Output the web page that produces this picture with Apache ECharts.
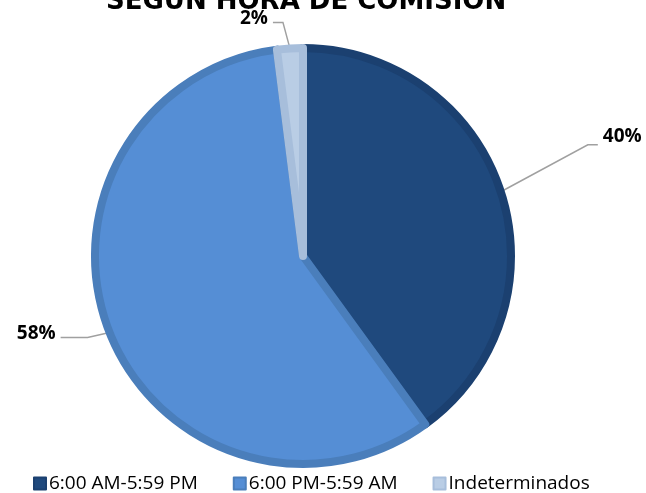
<!DOCTYPE html>
<html>
<head>
<meta charset="utf-8">
<script src="https://cdn.jsdelivr.net/npm/echarts@6/dist/echarts.min.js"></script>
<style>
  html, body { margin: 0; padding: 0; background: #fff; }
  #chart { width: 646px; height: 493px; }
</style>
</head>
<body>
<div id="chart"></div>
<script>
const categories = ['6:00 AM-5:59 PM', '6:00 PM-5:59 AM', 'Indeterminados']
const values = [40, 58, 2]
const fillColors = ['#1F497D', '#558ED5', '#B9CDE5']
const edgeColors = ['#1B4070', '#4A7EBB', '#A7BEDB']

// leader line shape per slice: elbow offset from edge point, tail length, text offset y
const leaderShape = [
  { elbow: [87, -47], tail: 10, ty: -8 },
  { elbow: [-22, 5], tail: -27, ty: -4 },
  { elbow: [-7, -26], tail: -10, ty: -4 }
]

const chart = echarts.init(document.getElementById('chart'))
const option = {
  animation: false,
  color: fillColors,
  title: {
    text: 'SEGÚN HORA DE COMISIÓN',
    left: 101,
    top: -16,
    textStyle: {
      fontFamily: 'DejaVu Sans',
      fontWeight: 'bold',
      fontSize: 26,
      color: '#000'
    }
  },
  legend: {
    bottom: -5,
    left: 28,
    itemWidth: 12,
    itemHeight: 12,
    itemGap: 35,
    icon: 'rect',
    textStyle: {
      fontFamily: 'Open Sans',
      fontSize: 19,
      color: '#000',
      padding: [0, 0, 0, -2]
    },
    data: categories
  },
  series: [
    {
      type: 'pie',
      center: [303, 256],
      radius: [0, 208],
      startAngle: 90,
      clockwise: true,
      label: {
        show: true,
        formatter: '{d}%',
        fontFamily: 'Open Sans',
        fontWeight: 'bold',
        fontSize: 19,
        color: '#000'
      },
      labelLine: {
        show: true,
        length: 20,
        length2: 30,
        lineStyle: { color: '#A0A0A0', width: 1.5 }
      },
      labelLayout: function (params) {
        const s = leaderShape[params.dataIndex]
        const p0 = params.labelLinePoints[0]
        const p1 = [p0[0] + s.elbow[0], p0[1] + s.elbow[1]]
        const p2 = [p1[0] + s.tail, p1[1]]
        const right = s.tail > 0
        return {
          x: p2[0] + (right ? 5 : -5),
          y: p2[1] + s.ty,
          align: right ? 'left' : 'right',
          verticalAlign: 'middle',
          labelLinePoints: [p0, p1, p2]
        }
      },
      data: categories.map((name, i) => ({
        name: name,
        value: values[i],
        itemStyle: {
          color: fillColors[i],
          borderColor: edgeColors[i],
          borderWidth: 8
        }
      }))
    }
  ]
}
chart.setOption(option)
</script>
</body>
</html>
